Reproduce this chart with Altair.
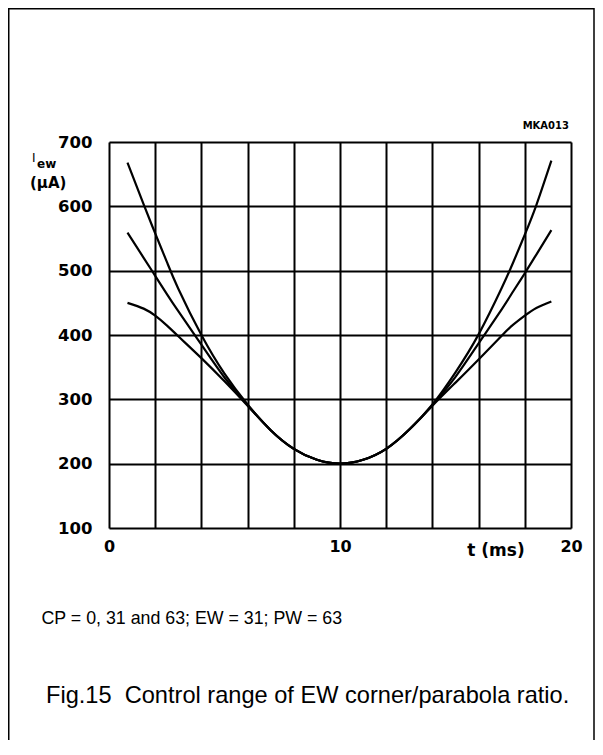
import altair as alt
import pandas as pd

# ---- data ----
t_left = [0.8, 1.5, 2, 2.5, 3, 4, 5, 6]
top_left = [668, 603, 558, 514, 472, 400, 340, 292]
mid_left = [559, 520, 492, 464, 437, 385, 334, 291]
low_left = [450, 441, 430, 415, 398, 364, 328, 290]

t_mid = [7, 8, 9, 10, 11, 12, 13]
common_mid = [252, 223, 206, 200, 206, 223, 253]

t_right = [14, 15, 16, 17, 17.5, 18, 18.5, 19.15]
top_right = [292, 342, 401, 473, 513, 556, 602, 671]
mid_right = [291, 335, 387, 440, 468, 496, 525, 563]
low_right = [290, 326, 362, 399, 416, 430, 442, 452]

series_names = ["CP = 63", "CP = 31", "CP = 0"]

x_ticks = [0, 2, 4, 6, 8, 10, 12, 14, 16, 18, 20]
y_ticks = [100, 200, 300, 400, 500, 600, 700]

rows = []
for name, left, right in zip(series_names,
                             [top_left, mid_left, low_left],
                             [top_right, mid_right, low_right]):
    ts = t_left + t_mid + t_right
    vs = left + common_mid + right
    for t, v in zip(ts, vs):
        rows.append({"series": name, "t": t, "I": v})
df = pd.DataFrame(rows)

PLOT_FONT = "DejaVu Sans"
TEXT_FONT = "Liberation Sans"

W, H = 462, 386
PAD_L, PAD_T = 101, 134
SVG_W, SVG_H = 587, 732

x_enc = alt.X("t:Q", scale=alt.Scale(domain=[0, 20], nice=False, zero=False),
              axis=alt.Axis(values=x_ticks,
                            labelExpr="datum.value % 10 === 0 ? datum.label : ''",
                            grid=True, gridColor="black", gridWidth=2, gridOpacity=1,
                            ticks=False, domain=False, title=None,
                            labelFont=PLOT_FONT, labelFontSize=16, labelFontWeight="bold",
                            labelColor="black", labelPadding=10, labelFlush=False))
y_enc = alt.Y("I:Q", scale=alt.Scale(domain=[100, 700], nice=False, zero=False),
              axis=alt.Axis(values=y_ticks,
                            grid=True, gridColor="black", gridWidth=2, gridOpacity=1,
                            ticks=False, domain=False, title=None,
                            labelFont=PLOT_FONT, labelFontSize=16.5, labelFontWeight="bold",
                            labelColor="black", labelPadding=17, labelFlush=False))

lines = alt.Chart(df).mark_line(color="black", strokeWidth=2.2, interpolate="natural").encode(
    x=x_enc, y=y_enc, detail="series:N")


def txt(s, x, y, size, font=TEXT_FONT, weight="normal", align="left", baseline="alphabetic"):
    return alt.Chart(pd.DataFrame({"s": [s]})).mark_text(
        font=font, fontSize=size, fontWeight=weight, align=align, baseline=baseline,
        color="black").encode(x=alt.value(x), y=alt.value(y), text="s:N")


# page coords -> relative to plot origin (page 109,142)
OX, OY = PAD_L + 8, PAD_T + 8

layers = [
    lines,
    txt("t (ms)", 496 - OX, 551 - OY, 17, font=PLOT_FONT, weight="bold",
        align="center", baseline="middle"),
    txt("MKA013", 569 - OX, 126 - OY, 10, font=PLOT_FONT, weight="bold",
        align="right", baseline="middle"),
    txt("I", 32 - OX, 158 - OY, 12, font=PLOT_FONT, weight="normal",
        align="left", baseline="middle"),
    txt("ew", 37 - OX, 164 - OY, 12, font=PLOT_FONT, weight="bold",
        align="left", baseline="middle"),
    txt("(μA)", 30 - OX, 183 - OY, 15, font=PLOT_FONT, weight="bold",
        align="left", baseline="middle"),
    txt("CP = 0, 31 and 63; EW = 31; PW = 63", 41.5 - OX, 623.5 - OY, 17.8),
    txt("Fig.15\u00a0 Control range of EW corner/parabola ratio.", 46 - OX, 703 - OY, 23.6),
    alt.Chart(pd.DataFrame({"k": [0]})).mark_rect(
        fill=None, stroke="black", strokeWidth=1.5).encode(
        x=alt.value(0.75 - PAD_L), y=alt.value(0.75 - PAD_T),
        x2=alt.value(SVG_W - 1.0 - PAD_L), y2=alt.value(SVG_H + 20 - PAD_T)),
]

chart = alt.layer(*layers).properties(
    width=W, height=H,
    autosize=alt.AutoSizeParams(type="none"),
    padding={"left": PAD_L, "top": PAD_T, "right": SVG_W - PAD_L - W,
             "bottom": SVG_H - PAD_T - H},
).configure_view(stroke="black", strokeWidth=2.5).configure(background="white")

chart.save("out.html", embed_options={"renderer": "svg", "actions": False})
